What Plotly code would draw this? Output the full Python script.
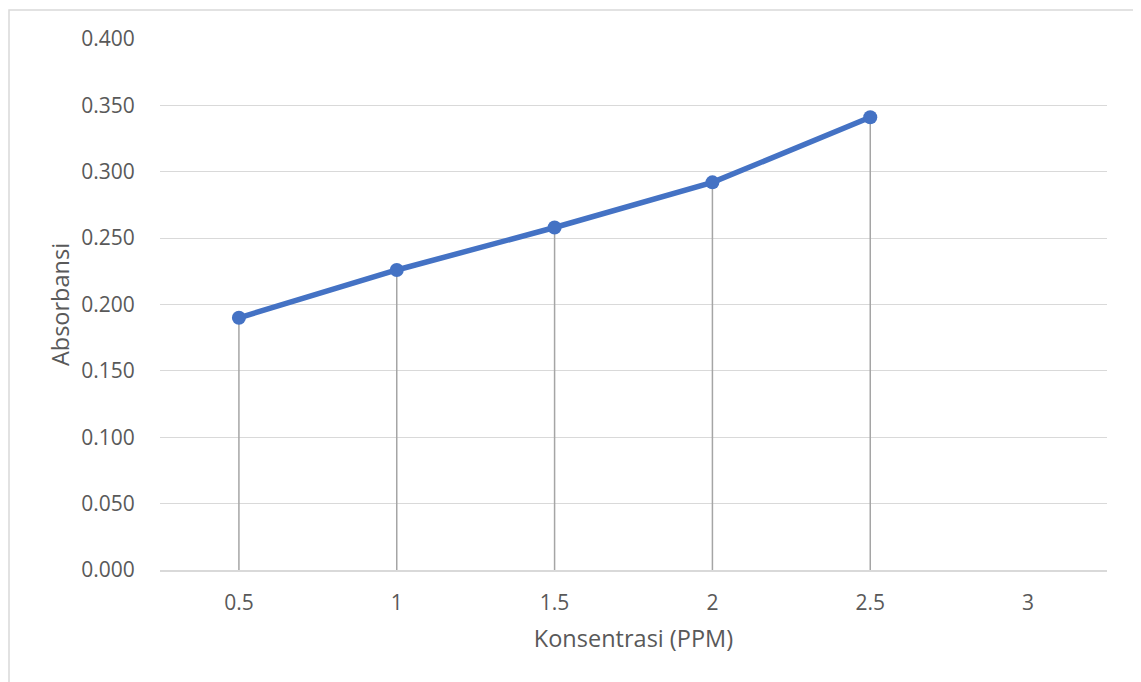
import plotly.graph_objects as go

konsentrasi = [0.5, 1, 1.5, 2, 2.5]
absorbansi = [0.190, 0.226, 0.258, 0.292, 0.341]
x_ticks = [0.5, 1, 1.5, 2, 2.5, 3]
x_tick_text = ["0.5", "1", "1.5", "2", "2.5", "3"]
y_ticks = [0, 0.05, 0.1, 0.15, 0.2, 0.25, 0.3, 0.35, 0.4]

FONT = "Open Sans, Noto Sans, sans-serif"
TXT = "#595959"

# page body has an 8px margin; plot area in figure coords
L, T, R, B = 152, 31, 1099, 562
W, H = R - L, B - T

fig = go.Figure()
fig.add_trace(go.Scatter(
    x=konsentrasi, y=absorbansi, mode="lines+markers",
    line=dict(color="#4472C4", width=5.5),
    marker=dict(color="#4472C4", size=14),
    error_y=dict(type="data", symmetric=False, array=[0] * len(absorbansi),
                 arrayminus=absorbansi, color="#a5a5a5", thickness=1.5, width=0),
    showlegend=False, cliponaxis=False,
))

fig.update_layout(
    width=1141, height=682,
    margin=dict(l=L, r=1141 - R, t=T, b=682 - B),
    paper_bgcolor="white", plot_bgcolor="white",
    font=dict(family=FONT, color=TXT, size=21),
    xaxis=dict(range=[0.25, 3.25], tickvals=x_ticks, ticktext=x_tick_text,
               showgrid=False, zeroline=False, showline=True, linecolor="#d9d9d9", linewidth=1.5,
               ticks="outside", ticklen=13, tickcolor="rgba(0,0,0,0)",
               tickfont=dict(size=21, color=TXT),
               title=dict(text="Konsentrasi (PPM)", font=dict(size=23.5, color=TXT), standoff=16)),
    yaxis=dict(range=[0, 0.4], tickvals=y_ticks, tickformat=".3f",
               showgrid=True, gridcolor="#d9d9d9", gridwidth=1.3, zeroline=False, showline=False,
               ticks="outside", ticklen=20, tickcolor="rgba(0,0,0,0)",
               tickfont=dict(size=21, color=TXT),
               title=dict(text="Absorbansi", font=dict(size=23.5, color=TXT), standoff=5)),
    shapes=[dict(type="rect", xref="paper", yref="paper",
                 x0=(1 - L) / W, x1=(1126 - L) / W,
                 y0=(B - 700) / H, y1=1 + (T - 2) / H,
                 line=dict(color="#d9d9d9", width=1.5), layer="below")],
)

fig.write_html("out.html")
